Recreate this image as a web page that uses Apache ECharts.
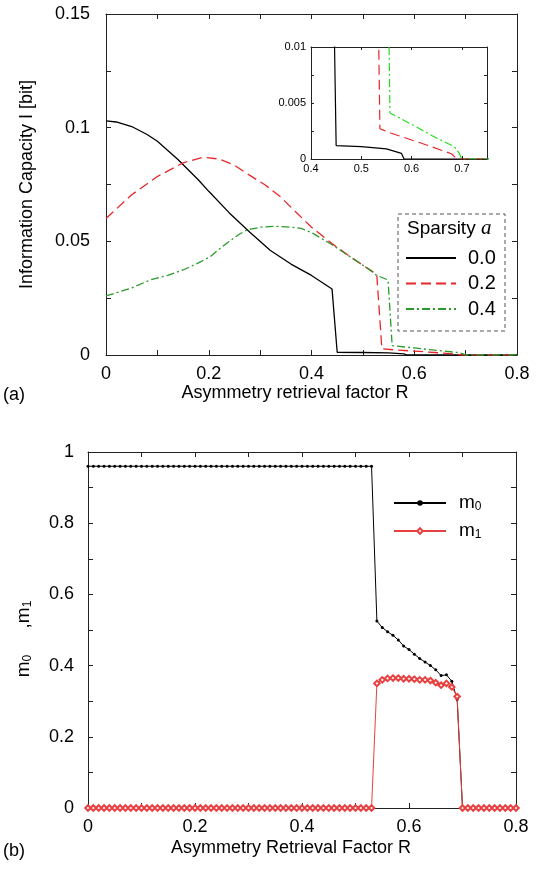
<!DOCTYPE html>
<html><head><meta charset="utf-8">
<script src="https://cdn.jsdelivr.net/npm/echarts@6/dist/echarts.min.js"></script>
<style>html,body{margin:0;padding:0;background:#fff}#c{width:543px;height:869px}</style>
</head><body><div id="c"></div>
<script>
// ---------- Panel (a): information capacity vs R ----------
const a00R = [0, 0.02, 0.05, 0.08, 0.1, 0.14, 0.18, 0.2, 0.24, 0.28, 0.32, 0.36, 0.4, 0.44, 0.45, 0.5, 0.55, 0.58, 0.585, 0.8];
const a00I = [0.103, 0.1025, 0.1005, 0.097, 0.094, 0.086, 0.077, 0.072, 0.0625, 0.054, 0.046, 0.04, 0.035, 0.029, 0.0012, 0.0011, 0.0009, 0.0005, 0, 0];
const a02R = [0, 0.05, 0.1, 0.15, 0.19, 0.22, 0.25, 0.28, 0.31, 0.34, 0.37, 0.4, 0.44, 0.48, 0.51, 0.527, 0.537, 0.56, 0.6, 0.64, 0.68, 0.69, 0.8];
const a02I = [0.06, 0.0705, 0.0785, 0.0845, 0.087, 0.0862, 0.0835, 0.079, 0.0748, 0.0695, 0.0628, 0.0562, 0.049, 0.0425, 0.038, 0.0355, 0.0027, 0.0023, 0.0017, 0.0011, 0.00045, 0, 0];
const a04R = [0, 0.05, 0.086, 0.12, 0.15, 0.18, 0.2025, 0.22, 0.24, 0.26, 0.274, 0.3, 0.33, 0.36, 0.38, 0.403, 0.44, 0.48, 0.51, 0.527, 0.549, 0.557, 0.6, 0.64, 0.685, 0.695, 0.7, 0.8];
const a04I = [0.026, 0.0295, 0.033, 0.035, 0.0374, 0.0405, 0.0432, 0.0465, 0.05, 0.0532, 0.055, 0.0562, 0.0566, 0.0562, 0.0557, 0.0535, 0.0485, 0.0425, 0.038, 0.035, 0.033, 0.0041, 0.0031, 0.0021, 0.0011, 0.0005, 0, 0];
const sparsityNames = ['0.0', '0.2', '0.4'];

// ---------- Panel (b): overlaps m0, m1 vs R ----------
const bR = [0, 0.01, 0.02, 0.03, 0.04, 0.05, 0.06, 0.07, 0.08, 0.09,
  0.1, 0.11, 0.12, 0.13, 0.14, 0.15, 0.16, 0.17, 0.18, 0.19,
  0.2, 0.21, 0.22, 0.23, 0.24, 0.25, 0.26, 0.27, 0.28, 0.29,
  0.3, 0.31, 0.32, 0.33, 0.34, 0.35, 0.36, 0.37, 0.38, 0.39,
  0.4, 0.41, 0.42, 0.43, 0.44, 0.45, 0.46, 0.47, 0.48, 0.49,
  0.5, 0.51, 0.52, 0.53, 0.54, 0.55, 0.56, 0.57, 0.58, 0.59,
  0.6, 0.61, 0.62, 0.63, 0.64, 0.65, 0.66, 0.67, 0.68, 0.69,
  0.7, 0.71, 0.72, 0.73, 0.74, 0.75, 0.76, 0.77, 0.78, 0.79, 0.8];
const bM0 = [0.96, 0.96, 0.96, 0.96, 0.96, 0.96, 0.96, 0.96, 0.96, 0.96,
  0.96, 0.96, 0.96, 0.96, 0.96, 0.96, 0.96, 0.96, 0.96, 0.96,
  0.96, 0.96, 0.96, 0.96, 0.96, 0.96, 0.96, 0.96, 0.96, 0.96,
  0.96, 0.96, 0.96, 0.96, 0.96, 0.96, 0.96, 0.96, 0.96, 0.96,
  0.96, 0.96, 0.96, 0.96, 0.96, 0.96, 0.96, 0.96, 0.96, 0.96,
  0.96, 0.96, 0.96, 0.96, 0.525, 0.507, 0.495, 0.485, 0.472, 0.455,
  0.445, 0.432, 0.42, 0.41, 0.4, 0.388, 0.372, 0.374, 0.356, 0.305,
  0, 0, 0, 0, 0, 0, 0, 0, 0, 0, 0];
const bM1 = [0, 0, 0, 0, 0, 0, 0, 0, 0, 0,
  0, 0, 0, 0, 0, 0, 0, 0, 0, 0,
  0, 0, 0, 0, 0, 0, 0, 0, 0, 0,
  0, 0, 0, 0, 0, 0, 0, 0, 0, 0,
  0, 0, 0, 0, 0, 0, 0, 0, 0, 0,
  0, 0, 0, 0, 0.35, 0.36, 0.364, 0.365, 0.365, 0.363,
  0.363, 0.362, 0.36, 0.36, 0.358, 0.352, 0.345, 0.35, 0.34, 0.313,
  0, 0, 0, 0, 0, 0, 0, 0, 0, 0, 0];
const overlapNames = ['m0', 'm1'];

function pairs(xs, ys) { return xs.map((x, i) => [x, ys[i]]); }

const FONT = 'Liberation Sans';
const AX = '#222';

function axisBase(extra) {
  return Object.assign({
    type: 'value',
    axisLine: { show: true, onZero: false, lineStyle: { color: AX, width: 1 } },
    axisTick: { show: true, inside: true, length: 5, lineStyle: { color: AX } },
    minorTick: { show: true, splitNumber: 2, length: 5, lineStyle: { color: AX } },
    splitLine: { show: false },
    axisLabel: { show: false },
  }, extra);
}
const mainLabel = (margin) => ({ show: true, margin: margin, fontFamily: FONT, fontSize: 18, color: '#000' });
const insetLabel = (margin, showMax) => ({ show: true, margin: margin, fontFamily: FONT, fontSize: 11, color: '#000', showMaxLabel: showMax });
const insetTick = { show: true, inside: true, length: 3, lineStyle: { color: AX } };
const insetMinor = { show: true, splitNumber: 2, length: 3, lineStyle: { color: AX } };

const RED = '#e8262a', GREEN = '#2a9a2a', GREEN2 = '#22dd22';
const lineDefs = [
  { name: sparsityNames[0], data: pairs(a00R, a00I), color: '#000', type: 'solid' },
  { name: sparsityNames[1], data: pairs(a02R, a02I), color: RED, type: [10, 5] },
  { name: sparsityNames[2], data: pairs(a04R, a04I), color: GREEN, type: [8, 3, 2, 3] },
];

const series = [];
lineDefs.forEach(d => series.push({
  name: d.name, type: 'line', xAxisIndex: 0, yAxisIndex: 0, data: d.data,
  symbol: 'none', clip: true, z: 3,
  lineStyle: { color: d.color, width: 1.3, type: d.type }, itemStyle: { color: d.color }
}));
const insetColors = ['#000', RED, GREEN2];
lineDefs.forEach((d, i) => series.push({
  name: 'inset ' + d.name, type: 'line', xAxisIndex: 2, yAxisIndex: 2, data: d.data,
  symbol: 'none', clip: true, z: 3,
  lineStyle: { color: insetColors[i], width: 1.2, type: d.type }
}));
series.push({
  name: overlapNames[0], type: 'line', xAxisIndex: 4, yAxisIndex: 4, data: pairs(bR, bM0),
  symbol: 'circle', symbolSize: 3, z: 3,
  lineStyle: { color: '#000', width: 1 }, itemStyle: { color: '#000' }
});
series.push({
  name: overlapNames[1], type: 'line', xAxisIndex: 4, yAxisIndex: 4, data: pairs(bR, bM1),
  symbol: 'emptyDiamond', symbolSize: 5.5, z: 4,
  lineStyle: { color: '#e84040', width: 1 }, itemStyle: { color: '#e84040', borderWidth: 1 }
});

const subRich = {
  m: { fontFamily: FONT, fontSize: 19, color: '#000', lineHeight: 20, verticalAlign: 'top' },
  s: { fontFamily: FONT, fontSize: 12, color: '#000', lineHeight: 12, padding: [10, 0, 0, 0], verticalAlign: 'bottom' }
};

const option = {
  animation: false,
  backgroundColor: '#fff',
  grid: [
    { left: 106, top: 14, width: 411, height: 341 },
    { left: 311, top: 47, width: 176, height: 112 },
    { left: 88, top: 452, width: 428, height: 356 },
  ],
  xAxis: [
    axisBase({ gridIndex: 0, position: 'bottom', min: 0, max: 0.8, interval: 0.2, axisLabel: mainLabel(10),
      name: 'Asymmetry retrieval factor R', nameLocation: 'middle', nameGap: 29,
      nameTextStyle: { fontFamily: FONT, fontSize: 18, color: '#000', padding: [0, 33, 0, 0] } }),
    axisBase({ gridIndex: 0, position: 'top', min: 0, max: 0.8, interval: 0.2 }),
    axisBase({ gridIndex: 1, position: 'bottom', min: 0.4, max: 0.75, interval: 0.1, axisLabel: insetLabel(4, false), axisTick: insetTick, minorTick: { show: false } }),
    axisBase({ gridIndex: 1, position: 'top', min: 0.4, max: 0.75, interval: 0.1, axisTick: insetTick, minorTick: { show: false } }),
    axisBase({ gridIndex: 2, position: 'bottom', min: 0, max: 0.8, interval: 0.2, axisLabel: mainLabel(10),
      name: 'Asymmetry Retrieval Factor R', nameLocation: 'middle', nameGap: 31,
      nameTextStyle: { fontFamily: FONT, fontSize: 18, color: '#000', padding: [0, 22, 0, 0] } }),
    axisBase({ gridIndex: 2, position: 'top', min: 0, max: 0.8, interval: 0.2 }),
  ],
  yAxis: [
    axisBase({ gridIndex: 0, position: 'left', min: 0, max: 0.15, interval: 0.05, axisLabel: mainLabel(16),
      name: 'Information Capacity I [bit]', nameLocation: 'middle', nameGap: 70,
      nameTextStyle: { fontFamily: FONT, fontSize: 18, color: '#000' } }),
    axisBase({ gridIndex: 0, position: 'right', min: 0, max: 0.15, interval: 0.05 }),
    axisBase({ gridIndex: 1, position: 'left', min: 0, max: 0.01, interval: 0.005, axisLabel: insetLabel(5, true), axisTick: insetTick, minorTick: insetMinor }),
    axisBase({ gridIndex: 1, position: 'right', min: 0, max: 0.01, interval: 0.005, axisTick: insetTick, minorTick: insetMinor }),
    axisBase({ gridIndex: 2, position: 'left', min: 0, max: 1, interval: 0.2, axisLabel: mainLabel(14),
      name: '{m|m}{s|0}{m|     ,m}{s|1}', nameLocation: 'middle', nameGap: 54,
      nameTextStyle: { rich: subRich, padding: [0, 18, 0, 0] } }),
    axisBase({ gridIndex: 2, position: 'right', min: 0, max: 1, interval: 0.2 }),
  ],
  legend: [
    {
      data: sparsityNames, orient: 'vertical', left: 405, top: 248, padding: 0,
      itemWidth: 50, itemHeight: 14, itemGap: 5.5,
      itemStyle: { color: 'rgba(0,0,0,0)', borderWidth: 0 },
      textStyle: { fontFamily: FONT, fontSize: 20, color: '#000', lineHeight: 20, padding: [0, 0, 0, 7] },
      selectedMode: false
    },
    {
      data: overlapNames, orient: 'vertical', left: 393, top: 491, padding: 0,
      itemWidth: 52, itemHeight: 7, itemGap: 6,
      formatter: n => n === 'm0' ? '{m|m}{s|0}' : '{m|m}{s|1}',
      textStyle: { rich: subRich, padding: [0, 0, 0, 8] },
      selectedMode: false
    }
  ],
  graphic: [
    { type: 'rect', shape: { x: 398, y: 214, width: 107, height: 117 },
      style: { fill: 'none', stroke: '#555', lineWidth: 1, lineDash: [4, 3] }, z: 10 },
    { type: 'text', x: 407, y: 218, z: 10,
      style: { text: '{t|Sparsity }{i|a}', rich: {
        t: { fontFamily: FONT, fontSize: 19, fill: '#000' },
        i: { fontFamily: 'Liberation Serif', fontStyle: 'italic', fontSize: 21, fill: '#000' } } } },
    { type: 'text', x: 3, y: 386, z: 10, style: { text: '(a)', fontFamily: FONT, fontSize: 18, fill: '#000' } },
    { type: 'text', x: 3, y: 842, z: 10, style: { text: '(b)', fontFamily: FONT, fontSize: 18, fill: '#000' } },
  ],
  series: series
};

const chart = echarts.init(document.getElementById('c'), null, { renderer: 'canvas' });
chart.setOption(option);
</script>
</body></html>
